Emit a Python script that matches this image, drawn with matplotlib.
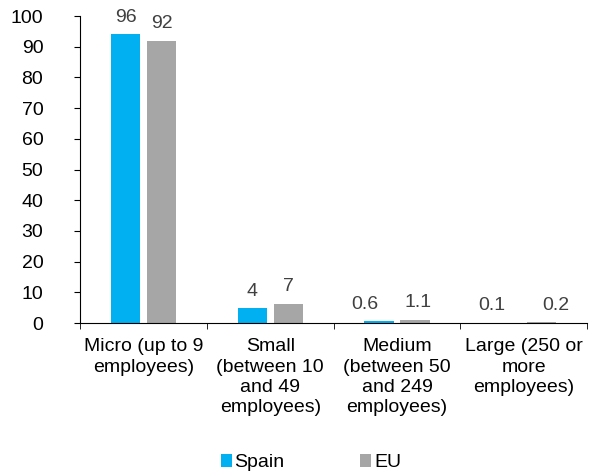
import numpy as np
import matplotlib.pyplot as plt

plt.rcParams['font.family'] = ['Liberation Sans', 'DejaVu Sans']

categories = ['Micro (up to 9\nemployees)', 'Small\n(between 10\nand 49\nemployees)',
              'Medium\n(between 50\nand 249\nemployees)', 'Large (250 or\nmore\nemployees)']
spain = [94, 4.8, 0.6, 0.1]
eu = [92, 6.3, 1.1, 0.2]
spain_labels = ['96', '4', '0.6', '0.1']
eu_labels = ['92', '7', '1.1', '0.2']

fig = plt.figure(figsize=(5.98, 4.71), dpi=100)
ax = fig.add_axes([0.134, 0.314, 0.848, 0.652])

x = np.arange(len(categories))
w = 0.23
b1 = ax.bar(x - 0.142, spain, w, color='#00B0F0', label='Spain')
b2 = ax.bar(x + 0.142, eu, w, color='#A6A6A6', label='EU')

# small bars: labels pushed apart a bit, like the original
nudge1 = [0, 0, -10, -10]
nudge2 = [0, 0, 2, 10]
for bars, labs, nd in ((b1, spain_labels, nudge1), (b2, eu_labels, nudge2)):
    for r, t, n in zip(bars, labs, nd):
        ax.annotate(t, (r.get_x() + r.get_width() / 2, r.get_height()),
                    xytext=(n, 6), textcoords='offset points',
                    ha='center', va='bottom', fontsize=14, color='#404040')

ax.set_xlim(-0.5, len(categories) - 0.5)
ax.set_ylim(0, 100)
ax.set_yticks(range(0, 101, 10))
ax.set_xticks(x)
ax.set_xticklabels(categories, fontsize=14, linespacing=1.25)
ax.set_xticks(np.arange(-0.5, len(categories)), minor=True)
ax.tick_params(axis='x', which='major', length=0, pad=11)
ax.tick_params(axis='x', which='minor', length=4.5, direction='out')
ax.tick_params(axis='y', labelsize=14, length=4.5, direction='out', pad=22)

for s in ['top', 'right']:
    ax.spines[s].set_visible(False)

fig.legend(handles=[b1, b2], loc='lower center', bbox_to_anchor=(0.52, -0.038), ncol=2,
           frameon=False, fontsize=14, handlelength=0.55, handleheight=0.6,
           handletextpad=0.15, columnspacing=3.9)

fig.savefig('out.png', dpi=100)
